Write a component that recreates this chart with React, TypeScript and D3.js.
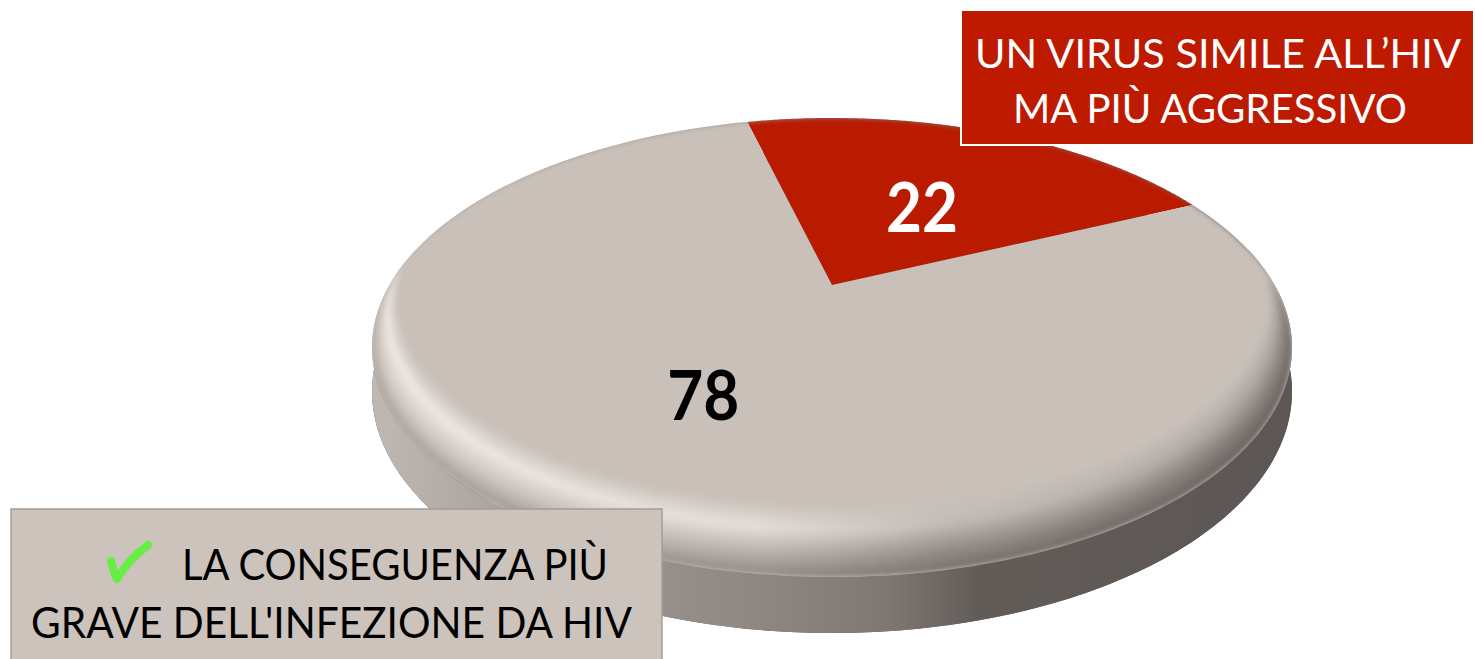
import React from "react";
import * as d3 from "d3";

// data
const categories = [
  "UN VIRUS SIMILE ALL’HIV MA PIÙ AGGRESSIVO",
  "LA CONSEGUENZA PIÙ GRAVE DELL'INFEZIONE DA HIV",
];
const values = [22, 78];
const sliceColors = ["#BA1A00", "#C9C1B9"];
const valueColors = ["#FFFFFF", "#000000"];
const labelLines = [
  ["UN VIRUS SIMILE ALL’HIV", "MA PIÙ AGGRESSIVO"],
  ["LA CONSEGUENZA PIÙ", "GRAVE DELL'INFEZIONE DA HIV"],
];

const width = 1475;
const height = 659;

// fake 3d: a disc on a tilted plane, seen with a bit of perspective
const cx = 832;
const cy = 285;
const sx = 442.6;
const sy = 212.5;
const persp = 0.2724;
const thick = 40.7;
const bevelLift = 38.9;
const deg = Math.PI / 180;
const startAngle = -14 * deg;

const proj = (r: number, a: number, drop = 0): [number, number] => {
  const t = a - Math.PI / 2;
  const X = r * Math.cos(t);
  const Z = r * Math.sin(t);
  const w = 1 - persp * Z;
  return [cx + (sx * X) / w, cy + (sy * Z + drop) / w];
};

const ring = (r: number, a0: number, a1: number, drop = 0) =>
  d3.range(0, 181).map((i) => proj(r, a0 + ((a1 - a0) * i) / 180, drop));

const line = d3.line();

// rim shading: colour across the rim (t: inner -> outer), for left / middle / right
const rimLeft = d3.scaleLinear<string>().domain([0, 0.35, 0.7, 1]).range(["#C9C1B9", "#F1EBE7", "#D3CBC5", "#A8A09A"]);
const rimMid = d3.scaleLinear<string>().domain([0, 0.35, 0.7, 1]).range(["#C9C1B9", "#E6E0DB", "#B8B0AA", "#908983"]);
const rimRight = d3.scaleLinear<string>().domain([0, 0.35, 0.7, 1]).range(["#C9C1B9", "#ABA49F", "#7F7874", "#625C5A"]);
const bands = d3.range(0, 14);

export default function App() {
  const pie = d3
    .pie<number>()
    .sort(null)
    .startAngle(startAngle)
    .endAngle(startAngle + 2 * Math.PI);
  const arcs = pie(values);

  const contour = (t: number) =>
    line(ring(0.95 + 0.05 * t, 0, 2 * Math.PI, -bevelLift * (1 - t))) + "Z";

  const topFace = contour(1);
  const bottomFace = line(ring(1, 0, 2 * Math.PI, thick)) + "Z";
  const side =
    line([...ring(1, 80 * deg, 280 * deg), ...ring(1, 280 * deg, 80 * deg, thick)]) + "Z";

  // value labels: pushed out along the mid angle, then squeezed back toward the centre
  const labelPos = (a: number): [number, number] => {
    const [x, y] = proj(0.72, a);
    return [cx + (x - cx) * 0.77, cy + (y - cy) * 0.66];
  };

  const font = "Lato, 'Open Sans', sans-serif";

  return (
    <svg
      width={width}
      height={height}
      style={{ position: "absolute", left: 0, top: 0, display: "block" }}
    >
      <defs>
        <linearGradient id="sideGrad" gradientUnits="userSpaceOnUse" x1={372} x2={1292} y1={0} y2={0}>
          <stop offset="0" stopColor="#C0B8B2" />
          <stop offset="0.2" stopColor="#A29A93" />
          <stop offset="0.42" stopColor="#8E8782" />
          <stop offset="0.56" stopColor="#7E7773" />
          <stop offset="0.66" stopColor="#625C59" />
          <stop offset="1" stopColor="#5C5654" />
        </linearGradient>
        {bands.map((k) => {
          const t = (k + 0.5) / bands.length;
          return (
            <linearGradient key={k} id={"rim" + k} gradientUnits="userSpaceOnUse" x1={372} x2={1292} y1={0} y2={0}>
              <stop offset="0" stopColor={rimLeft(t)} />
              <stop offset="0.42" stopColor={rimMid(t)} />
              <stop offset="0.62" stopColor={d3.interpolateRgb(rimMid(t), rimRight(t))(0.6)} />
              <stop offset="1" stopColor={rimRight(t)} />
            </linearGradient>
          );
        })}
        <clipPath id="topClip">
          <path d={topFace} />
        </clipPath>
        <filter id="soft" x="-10%" y="-10%" width="120%" height="120%">
          <feGaussianBlur stdDeviation={2.5} />
        </filter>
      </defs>

      {/* body */}
      <path d={bottomFace} fill="#5C5654" />
      <path d={side} fill="url(#sideGrad)" />

      {/* top slices */}
      {arcs.map((d, i) => (
        <path
          key={categories[i]}
          d={line([[cx, cy], ...ring(1, d.startAngle, d.endAngle)]) + "Z"}
          fill={sliceColors[i]}
        />
      ))}

      {/* rounded rim */}
      <g clipPath="url(#topClip)">
        <g filter="url(#soft)">
          {bands.map((k) => (
            <path
              key={k}
              d={contour((k + 1) / bands.length) + contour(k / bands.length)}
              fill={"url(#rim" + k + ")"}
              fillRule="evenodd"
            />
          ))}
        </g>
      </g>

      {/* values */}
      {arcs.map((d, i) => {
        const [x, y] = labelPos((d.startAngle + d.endAngle) / 2);
        return (
          <text
            key={"v" + i}
            x={x}
            y={y}
            dy="0.36em"
            textAnchor="middle"
            fontFamily={font}
            fontWeight="bold"
            fontSize={68}
            fill={valueColors[i]}
            textLength={72}
            lengthAdjust="spacingAndGlyphs"
          >
            {d.data}
          </text>
        );
      })}

      {/* label boxes */}
      <rect x={961} y={10} width={513} height={135} fill="#BE1A00" stroke="#FFFFFF" strokeWidth={2} />
      <text x={975} y={68} fontFamily={font} fontSize={41} fill="#FFFFFF" textLength={486} lengthAdjust="spacingAndGlyphs">
        {labelLines[0][0]}
      </text>
      <text x={1013} y={123} fontFamily={font} fontSize={41} fill="#FFFFFF" textLength={394} lengthAdjust="spacingAndGlyphs">
        {labelLines[0][1]}
      </text>

      <rect x={11} y={509} width={651} height={170} fill="#CBC3BC" stroke="#A39D98" strokeWidth={1.5} />
      <path
        d="M111,561 Q113,571 117,579 Q128,560 148,545"
        fill="none"
        stroke="#66EE44"
        strokeWidth={8}
        strokeLinecap="round"
        strokeLinejoin="round"
      />
      <text x={182} y={580} fontFamily={font} fontSize={43} fill="#000000" textLength={426} lengthAdjust="spacingAndGlyphs">
        {labelLines[1][0]}
      </text>
      <text x={31} y={638} fontFamily={font} fontSize={43} fill="#000000" textLength={601} lengthAdjust="spacingAndGlyphs">
        {labelLines[1][1]}
      </text>
    </svg>
  );
}
